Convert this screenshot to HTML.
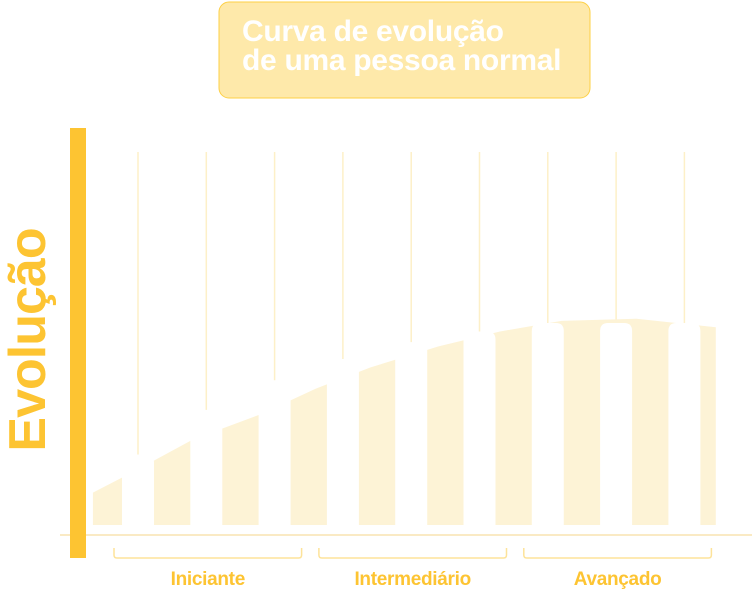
<!DOCTYPE html>
<html><head><meta charset="utf-8"><style>
html,body{margin:0;padding:0;background:#fff;}
svg{display:block;font-family:"Liberation Sans",sans-serif;}
</style></head><body>
<svg id="chart" width="752" height="591" viewBox="0 0 752 591">
  <rect x="219" y="2" width="371" height="96" rx="10" fill="#fee9aa" stroke="#fdd046" stroke-width="1"/>
  <text x="242" y="41" font-size="30" font-weight="bold" fill="#fff" letter-spacing="-0.3">Curva de evolução</text>
  <text x="242" y="70" font-size="30" font-weight="bold" fill="#fff" letter-spacing="-0.3">de uma pessoa normal</text>
  <text transform="translate(45,340) rotate(-90)" text-anchor="middle" font-size="52" font-weight="bold" fill="#fdc432" letter-spacing="-1">Evolução</text>
  <g id="grid"></g>
  <path id="area" fill="#fdf3d6"/>
  <g id="bars"></g>
  <line x1="60" y1="535" x2="752" y2="535" stroke="#f5d58a" stroke-width="1"/>
  <rect x="70" y="128" width="16" height="430" fill="#fdc432"/>
  <g id="groups"></g>
</svg>
<script>
const categories = [1,2,3,4,5,6,7,8,9];
const barValues = [38,59,73,83,91,96,100,100,100];
const curveX = [-0.66,0,0.8,1.8,2.6,3.4,4.4,5.3,6.2,7.3,8.46];
const curveValues = [20,31,45,57,69,79,89,96,101,102,98];
const groupLabels = ["Iniciante","Intermediário","Avançado"];
const groupStart = [0,3,6];
const groupEnd = [2,5,8];

const NS="http://www.w3.org/2000/svg";
const base=535, areaBase=525, x0=138, step=68.3, k=2.12, bw=32;
const xS=i=>x0+i*step;
const yS=v=>base-v*k;
function mk(t,a,p){const e=document.createElementNS(NS,t);for(const n in a)e.setAttribute(n,a[n]);p.appendChild(e);return e;}

const grid=document.getElementById('grid');
categories.forEach((c,i)=>{
  const l=mk('line',{x1:xS(i),x2:xS(i),y1:152,y2:base,stroke:'#fdf0c8','stroke-width':1.5},grid);
  
  
});

let d=`M${xS(curveX[0])},${areaBase}`;
curveX.forEach((cx,i)=>{d+=` L${xS(cx)},${yS(curveValues[i])}`;});
d+=` L${xS(curveX[curveX.length-1])},${areaBase} Z`;
document.getElementById('area').setAttribute('d',d);

const bars=document.getElementById('bars');
barValues.forEach((v,i)=>{
  const x=xS(i)-bw/2, y=yS(v), r=8;
  const p=mk('path',{d:`M${x},${base} L${x},${y+r} Q${x},${y} ${x+r},${y} L${x+bw-r},${y} Q${x+bw},${y} ${x+bw},${y+r} L${x+bw},${base} Z`,fill:'#fff'},bars);
  
  
});

const groups=document.getElementById('groups');
groupLabels.forEach((lab,g)=>{
  const a=xS(groupStart[g])-24, b=xS(groupEnd[g])+27;
  const br=mk('path',{d:`M${a},548 L${a},555 Q${a},558 ${a+3},558 L${b-3},558 Q${b},558 ${b},555 L${b},548`,fill:'none',stroke:'#fde39a','stroke-width':1.5},groups);
  
  
  const t=mk('text',{x:(a+b)/2,y:585,'text-anchor':'middle','font-size':19,'font-weight':'bold',fill:'#fdc432','letter-spacing':'-0.3'},groups);
  t.textContent=lab;
  
  
});
</script>
</body></html>
